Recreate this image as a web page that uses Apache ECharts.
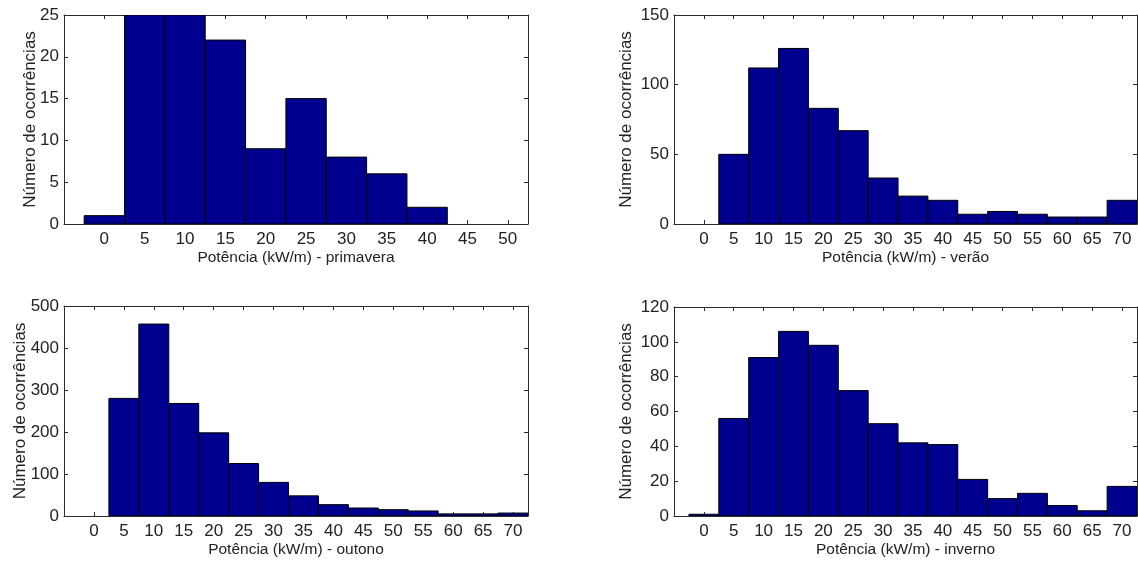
<!DOCTYPE html>
<html>
<head>
<meta charset="utf-8">
<script src="https://cdn.jsdelivr.net/npm/echarts@6/dist/echarts.min.js"></script>
<style>
html,body{margin:0;padding:0;background:#fff;}
#chart{width:1138px;height:561px;}
</style>
</head>
<body>
<div id="chart"></div>
<script>
// Bin centres (kW/m)
const binsPrimavera = [0, 5, 10, 15, 20, 25, 30, 35, 40, 45, 50];
const binsSeason = [0, 5, 10, 15, 20, 25, 30, 35, 40, 45, 50, 55, 60, 65, 70];
const binWidth = 5;

// Counts per bin
const primavera = [1, 25, 25, 22, 9, 15, 8, 6, 2, 0, 0];
const verao = [0, 50, 112, 126, 83, 67, 33, 20, 17, 7, 9, 7, 5, 5, 17];
const outono = [0, 280, 457, 268, 198, 125, 80, 48, 27, 19, 15, 12, 5, 5, 7];
const inverno = [1, 56, 91, 106, 98, 72, 53, 42, 41, 21, 10, 13, 6, 3, 17];

// Axis titles
const xTitles = ['Potência (kW/m) - primavera', 'Potência (kW/m) - verão', 'Potência (kW/m) - outono', 'Potência (kW/m) - inverno'];
const yTitle = 'Número de ocorrências';

// y-axis scales
const yMax = [25, 150, 500, 120];
const yInterval = [5, 50, 100, 20];
const xMax = [52.5, 72.5, 72.5, 72.5];

const panels = [
  {bins: binsPrimavera, vals: primavera},
  {bins: binsSeason, vals: verao},
  {bins: binsSeason, vals: outono},
  {bins: binsSeason, vals: inverno}
];

const grids = [
  {left: 64, top: 15, width: 464, height: 209},
  {left: 674, top: 15, width: 463, height: 209},
  {left: 64, top: 306, width: 464, height: 210},
  {left: 674, top: 307, width: 463, height: 209}
];
const yNameGap = [25, 39, 35, 39];

const axisColor = '#2b2b2b';
const textColor = '#222';
const font = 'Liberation Sans, Arial, sans-serif';

const xAxes = [], yAxes = [], series = [];
panels.forEach((p, i) => {
  xAxes.push({
    type: 'value', gridIndex: i, min: -5, max: xMax[i], interval: 5,
    position: 'bottom',
    name: xTitles[i], nameLocation: 'middle', nameGap: 26,
    nameTextStyle: {color: textColor, fontSize: 15.5, fontFamily: font},
    axisLine: {show: true, onZero: false, lineStyle: {color: axisColor, width: 1}},
    axisTick: {show: true, inside: true, length: 4, lineStyle: {color: axisColor}},
    axisLabel: {color: textColor, fontSize: 17, fontFamily: font, margin: 7,
      showMinLabel: false, showMaxLabel: false,
      formatter: v => (v >= 0 && v % 5 === 0) ? String(v) : ''},
    splitLine: {show: false}
  });
  xAxes.push({
    type: 'value', gridIndex: i, min: -5, max: xMax[i], interval: 5,
    position: 'top',
    axisLine: {show: true, onZero: false, lineStyle: {color: axisColor, width: 1}},
    axisTick: {show: true, inside: true, length: 4, lineStyle: {color: axisColor}},
    axisLabel: {show: false}, splitLine: {show: false}
  });
  yAxes.push({
    type: 'value', gridIndex: i, min: 0, max: yMax[i], interval: yInterval[i],
    position: 'left',
    name: yTitle, nameLocation: 'middle', nameGap: yNameGap[i], nameRotate: 90,
    nameMoveOverlap: false,
    nameTextStyle: {color: textColor, fontSize: 17, fontFamily: font},
    axisLine: {show: true, onZero: false, lineStyle: {color: axisColor, width: 1}},
    axisTick: {show: true, inside: true, length: 4, lineStyle: {color: axisColor}},
    axisLabel: {color: textColor, fontSize: 17, fontFamily: font, margin: 5},
    splitLine: {show: false}
  });
  yAxes.push({
    type: 'value', gridIndex: i, min: 0, max: yMax[i], interval: yInterval[i],
    position: 'right',
    axisLine: {show: true, onZero: false, lineStyle: {color: axisColor, width: 1}},
    axisTick: {show: true, inside: true, length: 4, lineStyle: {color: axisColor}},
    axisLabel: {show: false}, splitLine: {show: false}
  });
  series.push({
    type: 'custom',
    xAxisIndex: i * 2, yAxisIndex: i * 2,
    clip: true,
    data: p.bins.map((b, k) => [b, p.vals[k]]),
    renderItem: (params, api) => {
      const c = api.value(0), v = api.value(1);
      if (!v) return null;
      const p0 = api.coord([c - binWidth / 2, v]);
      const p1 = api.coord([c + binWidth / 2, 0]);
      return {
        type: 'rect',
        shape: {x: p0[0], y: p0[1], width: p1[0] - p0[0], height: p1[1] - p0[1]},
        style: {fill: '#00008F', stroke: '#000', lineWidth: 1}
      };
    }
  });
});

const chart = echarts.init(document.getElementById('chart'), null, {renderer: 'canvas'});
chart.setOption({
  animation: false,
  backgroundColor: '#fff',
  grid: grids,
  xAxis: xAxes,
  yAxis: yAxes,
  series: series
});
</script>
</body>
</html>
